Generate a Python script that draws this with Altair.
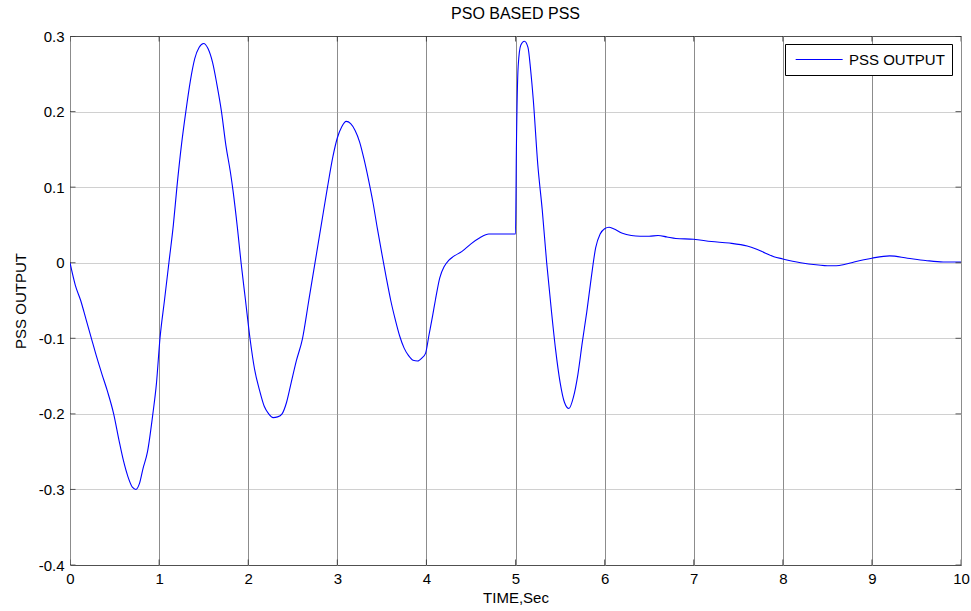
import altair as alt
import pandas as pd

title_text = "PSO BASED PSS"
x_title = "TIME,Sec"
y_title = "PSS OUTPUT"
series_name = "PSS OUTPUT"

x_ticks = [0, 1, 2, 3, 4, 5, 6, 7, 8, 9, 10]
y_ticks = [-0.4, -0.3, -0.2, -0.1, 0, 0.1, 0.2, 0.3]

time = [0, 0.06, 0.12, 0.18, 0.24, 0.3, 0.36, 0.42, 0.49, 0.55, 0.6, 0.65, 0.7, 0.74,
        0.78, 0.82, 0.87, 0.93, 0.97, 1.01, 1.06, 1.11, 1.16, 1.2, 1.25, 1.3, 1.35, 1.4,
        1.45, 1.5, 1.55, 1.6, 1.65, 1.7, 1.75, 1.8, 1.83, 1.88, 1.92, 1.97, 2.02, 2.07,
        2.13, 2.18, 2.23, 2.28, 2.33, 2.38, 2.43, 2.48, 2.54, 2.61, 2.68, 2.75, 2.82,
        2.89, 2.95, 3.0, 3.05, 3.1, 3.15, 3.2, 3.25, 3.3, 3.35, 3.4, 3.45, 3.5, 3.55,
        3.6, 3.65, 3.7, 3.75, 3.8, 3.85, 3.9, 3.95, 3.99, 4.03, 4.07, 4.1, 4.15, 4.2,
        4.25, 4.3, 4.4, 4.5, 4.6, 4.7, 4.8, 4.9, 5.0, 5.01, 5.03, 5.06, 5.1, 5.14, 5.17,
        5.2, 5.25, 5.3, 5.35, 5.4, 5.45, 5.5, 5.55, 5.6, 5.65, 5.7, 5.75, 5.8, 5.85,
        5.9, 5.95, 6.0, 6.05, 6.1, 6.2, 6.3, 6.4, 6.5, 6.6, 6.7, 6.8, 7.0, 7.2, 7.4,
        7.6, 7.7, 7.8, 7.9, 8.0, 8.2, 8.4, 8.5, 8.6, 8.7, 8.8, 9.0, 9.2, 9.4, 9.6, 9.8,
        10.0]

pss = [0, -0.03, -0.05, -0.075, -0.1, -0.125, -0.148, -0.17, -0.2, -0.235, -0.262,
       -0.283, -0.297, -0.3, -0.292, -0.272, -0.25, -0.2, -0.16, -0.1, -0.05, 0, 0.05,
       0.1, 0.155, 0.2, 0.24, 0.27, 0.285, 0.29, 0.283, 0.265, 0.235, 0.2, 0.155, 0.12,
       0.095, 0.045, 0, -0.05, -0.1, -0.14, -0.17, -0.19, -0.2, -0.205, -0.204, -0.2,
       -0.185, -0.16, -0.13, -0.1, -0.05, 0, 0.05, 0.1, 0.14, 0.165, 0.18, 0.187, 0.184,
       0.175, 0.16, 0.137, 0.11, 0.08, 0.045, 0.012, -0.02, -0.05, -0.075, -0.097,
       -0.113, -0.123, -0.129, -0.13, -0.126, -0.12, -0.095, -0.07, -0.05, -0.02,
       -0.005, 0.003, 0.008, 0.015, 0.025, 0.033, 0.038, 0.038, 0.038, 0.038, 0.15,
       0.26, 0.288, 0.293, 0.285, 0.255, 0.215, 0.13, 0.07, 0.0, -0.06, -0.115, -0.158,
       -0.185, -0.193, -0.178, -0.148, -0.105, -0.065, -0.02, 0.02, 0.038, 0.045, 0.047,
       0.045, 0.039, 0.036, 0.035, 0.035, 0.036, 0.034, 0.032, 0.031, 0.028, 0.026,
       0.022, 0.018, 0.013, 0.008, 0.005, 0.0, -0.003, -0.004, -0.004, -0.002, 0.001,
       0.006, 0.009, 0.006, 0.003, 0.001, 0.001]

df = pd.DataFrame({"t": time, "v": pss, "series": [series_name] * len(time)})
xt_df = pd.DataFrame({"t": x_ticks})
yt_df = pd.DataFrame({"v": y_ticks})

FONT = "Liberation Sans"
FS = 15
X_DOM = [0, 10]
Y_DOM = [-0.4, 0.3]
label_expr = "datum.value < 0 ? '-' + format(-datum.value, '~g') : format(datum.value, '~g')"

x_scale = alt.Scale(domain=X_DOM, nice=False, zero=False)
y_scale = alt.Scale(domain=Y_DOM, nice=False, zero=False)

x_axis = alt.Axis(values=x_ticks, title=x_title, format="d", grid=True,
                  gridColor="#8c8c8c", gridWidth=1, ticks=False, domain=False,
                  labelPadding=6, titlePadding=4, labelFlush=False,
                  labelFont=FONT, labelFontSize=FS, labelColor="black",
                  titleFont=FONT, titleFontSize=FS, titleFontWeight="normal",
                  titleColor="black")
y_axis = alt.Axis(values=y_ticks, title=y_title, labelExpr=label_expr, grid=True,
                  gridColor="#a0a0a0", gridDash=[1, 1], gridWidth=1.2,
                  ticks=False, domain=False, labelPadding=6, titlePadding=10,
                  labelFlush=False,
                  labelFont=FONT, labelFontSize=FS, labelColor="black",
                  titleFont=FONT, titleFontSize=FS, titleFontWeight="normal",
                  titleColor="black")

line = alt.Chart(df).mark_line(
    strokeWidth=1.1, interpolate="monotone", clip=True
).encode(
    x=alt.X("t:Q", scale=x_scale, axis=x_axis),
    y=alt.Y("v:Q", scale=y_scale, axis=y_axis),
    color=alt.Color("series:N", scale=alt.Scale(range=["#0000ff"]),
                    legend=alt.Legend(title=None, orient="none", legendX=715, legendY=8,
                                      symbolType="M-0.617,0L5.385,0", symbolSize=245,
                                      symbolStrokeWidth=1.1, symbolFillColor="transparent",
                                      labelFontSize=FS,
                                      labelFont=FONT, labelColor="black",
                                      strokeColor="black", fillColor="white",
                                      padding=7, labelOffset=40, cornerRadius=0)),
)

tick_style = dict(color="#202020", size=11, thickness=1, clip=True)

top_ticks = alt.Chart(xt_df).mark_tick(orient="vertical", **tick_style).encode(
    x=alt.X("t:Q", scale=x_scale, axis=x_axis), y=alt.datum(Y_DOM[1]))
bottom_ticks = alt.Chart(xt_df).mark_tick(orient="vertical", **tick_style).encode(
    x=alt.X("t:Q", scale=x_scale, axis=x_axis), y=alt.datum(Y_DOM[0]))
left_ticks = alt.Chart(yt_df).mark_tick(orient="horizontal", **tick_style).encode(
    y=alt.Y("v:Q", scale=y_scale, axis=y_axis), x=alt.datum(X_DOM[0]))
right_ticks = alt.Chart(yt_df).mark_tick(orient="horizontal", **tick_style).encode(
    y=alt.Y("v:Q", scale=y_scale, axis=y_axis), x=alt.datum(X_DOM[1]))

chart = alt.layer(line, top_ticks, bottom_ticks, left_ticks, right_ticks).properties(
    width=891, height=529,
    title=alt.TitleParams(title_text, font=FONT, fontSize=16, fontWeight="normal",
                          color="black", offset=7),
    padding={"left": 70, "top": 36, "right": 10, "bottom": 46},
    autosize=alt.AutoSizeParams(type="none"),
).configure_view(
    stroke="black", strokeWidth=1
)

chart.save("out.html", embed_options={"renderer": "svg", "actions": False})
